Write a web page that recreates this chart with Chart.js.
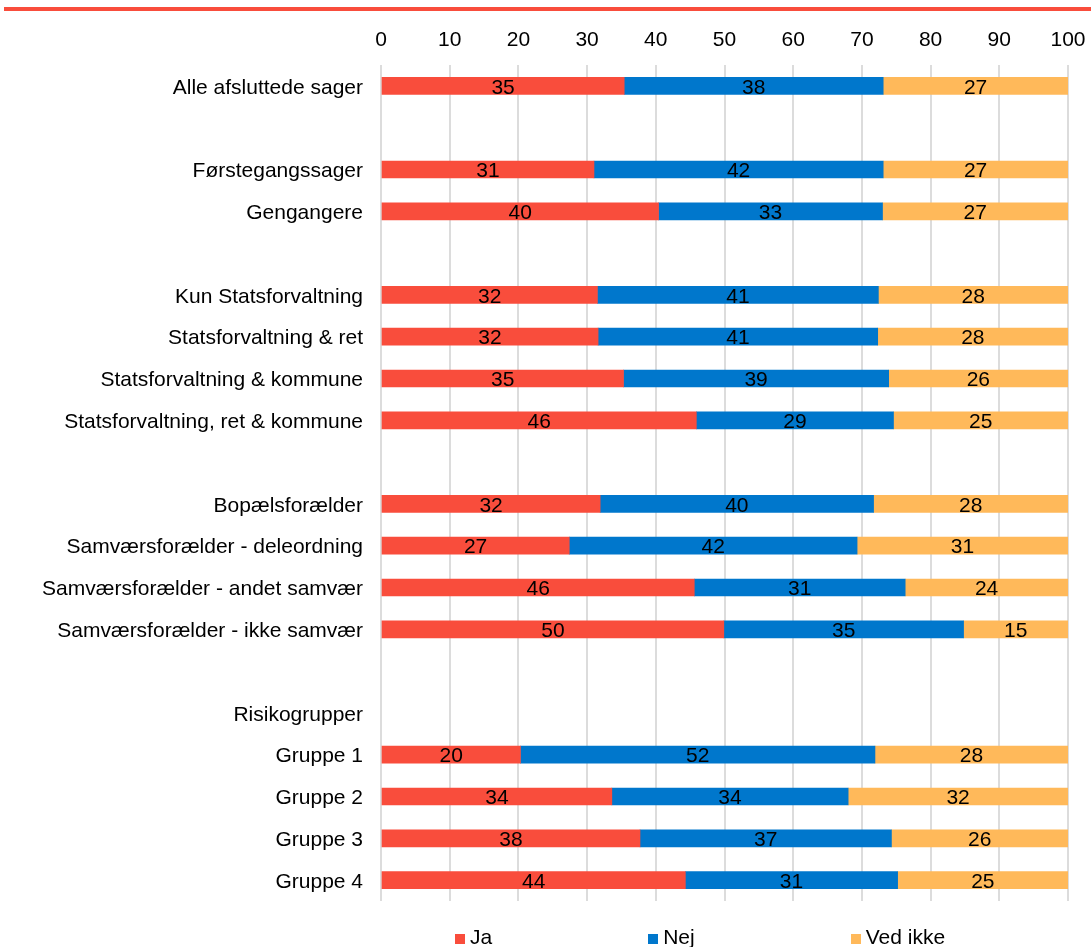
<!DOCTYPE html>
<html>
<head>
<meta charset="utf-8">
<script src="https://cdn.jsdelivr.net/npm/chart.js"></script>
<style>
  body { margin: 0; background: #fff; }
  #wrap { position: relative; width: 1091px; height: 947px; overflow: hidden; }
  #topline { position: absolute; left: 4px; top: 7px; width: 1087px; height: 4px; background: #f94d3c; }
  #legend { position: absolute; left: 455px; top: 925px; display: flex; gap: 156px;
    font-family: 'Liberation Sans', Arial, sans-serif; font-size: 21px; color: #000; }
  .item { display: flex; align-items: center; }
  .box { width: 10px; height: 10px; margin-right: 5px; margin-top: 3px; }
</style>
</head>
<body>
<div id="wrap">
  <div id="topline"></div>
  <canvas id="chart" width="1091" height="947"></canvas>
  <div id="legend"></div>
</div>
<script>
// categories (blank strings are the gaps between groups)
const categories = [
  'Alle afsluttede sager', '',
  'Førstegangssager', 'Gengangere', '',
  'Kun Statsforvaltning', 'Statsforvaltning & ret', 'Statsforvaltning & kommune', 'Statsforvaltning, ret & kommune', '',
  'Bopælsforælder', 'Samværsforælder - deleordning', 'Samværsforælder - andet samvær', 'Samværsforælder - ikke samvær', '',
  'Risikogrupper', 'Gruppe 1', 'Gruppe 2', 'Gruppe 3', 'Gruppe 4'
];
const ja      = [35.4, null, 31.0, 40.4, null, 31.5, 31.6, 35.3, 45.9, null, 31.9, 27.4, 45.6, 49.9, null, null, 20.3, 33.6, 37.7, 44.3];
const nej     = [37.7, null, 42.1, 32.6, null, 40.9, 40.7, 38.6, 28.7, null, 39.8, 41.9, 30.7, 34.9, null, null, 51.6, 34.4, 36.6, 30.9];
const vedIkke = [26.9, null, 26.9, 27.0, null, 27.6, 27.7, 26.1, 25.4, null, 28.3, 30.7, 23.7, 15.2, null, null, 28.1, 32.0, 25.7, 24.8];
const seriesNames = ['Ja', 'Nej', 'Ved ikke'];
const seriesColors = ['#f94d3c', '#0077cc', '#ffb95a'];
const xTicks = [0, 10, 20, 30, 40, 50, 60, 70, 80, 90, 100];

const FONT = "'Liberation Sans', Arial, sans-serif";
Chart.defaults.font.family = FONT;
Chart.defaults.font.size = 21;
Chart.defaults.color = '#000';

// value labels in the middle of each segment
const valueLabels = {
  id: 'valueLabels',
  afterDatasetsDraw(chart) {
    const ctx = chart.ctx;
    ctx.save();
    ctx.font = '21px ' + FONT;
    ctx.fillStyle = '#000';
    ctx.textAlign = 'center';
    ctx.textBaseline = 'middle';
    chart.data.datasets.forEach((ds, i) => {
      const meta = chart.getDatasetMeta(i);
      meta.data.forEach((bar, j) => {
        const v = ds.data[j];
        if (v == null) return;
        const p = bar.getCenterPoint();
        ctx.fillText(String(Math.round(v)), p.x, p.y + 2);
      });
    });
    ctx.restore();
  }
};

const seriesData = [ja, nej, vedIkke];
const chart = new Chart(document.getElementById('chart'), {
  type: 'bar',
  data: {
    labels: categories,
    datasets: seriesNames.map((name, i) => ({
      label: name,
      data: seriesData[i],
      backgroundColor: seriesColors[i],
      barThickness: 17
    }))
  },
  options: {
    indexAxis: 'y',
    responsive: false,
    animation: false,
    layout: { padding: { left: 0, right: 23, top: 0, bottom: 46 } },
    plugins: { legend: { display: false }, tooltip: { enabled: false } },
    scales: {
      x: {
        position: 'top',
        stacked: true,
        min: 0,
        max: 100,
        afterBuildTicks(axis) { axis.ticks = xTicks.map(v => ({ value: v })); },
        afterFit(axis) { axis.height = 65; },
        ticks: { padding: 0, font: { size: 21, lineHeight: 50 / 21 }, color: '#000' },
        grid: { color: '#dcdcdc', lineWidth: 2, drawTicks: false },
        border: { display: false }
      },
      y: {
        stacked: true,
        afterFit(axis) { axis.width = 381; },
        ticks: { padding: 18, autoSkip: false, labelOffset: 2, font: { size: 21 }, color: '#000' },
        grid: { display: false, drawTicks: false },
        border: { display: false }
      }
    }
  },
  plugins: [valueLabels]
});

// legend from the series arrays
const legend = document.getElementById('legend');
seriesNames.forEach((name, i) => {
  const item = document.createElement('div');
  item.className = 'item';
  item.innerHTML = '<span class="box" style="background:' + seriesColors[i] + '"></span><span>' + name + '</span>';
  legend.appendChild(item);
});
</script>
</body>
</html>
